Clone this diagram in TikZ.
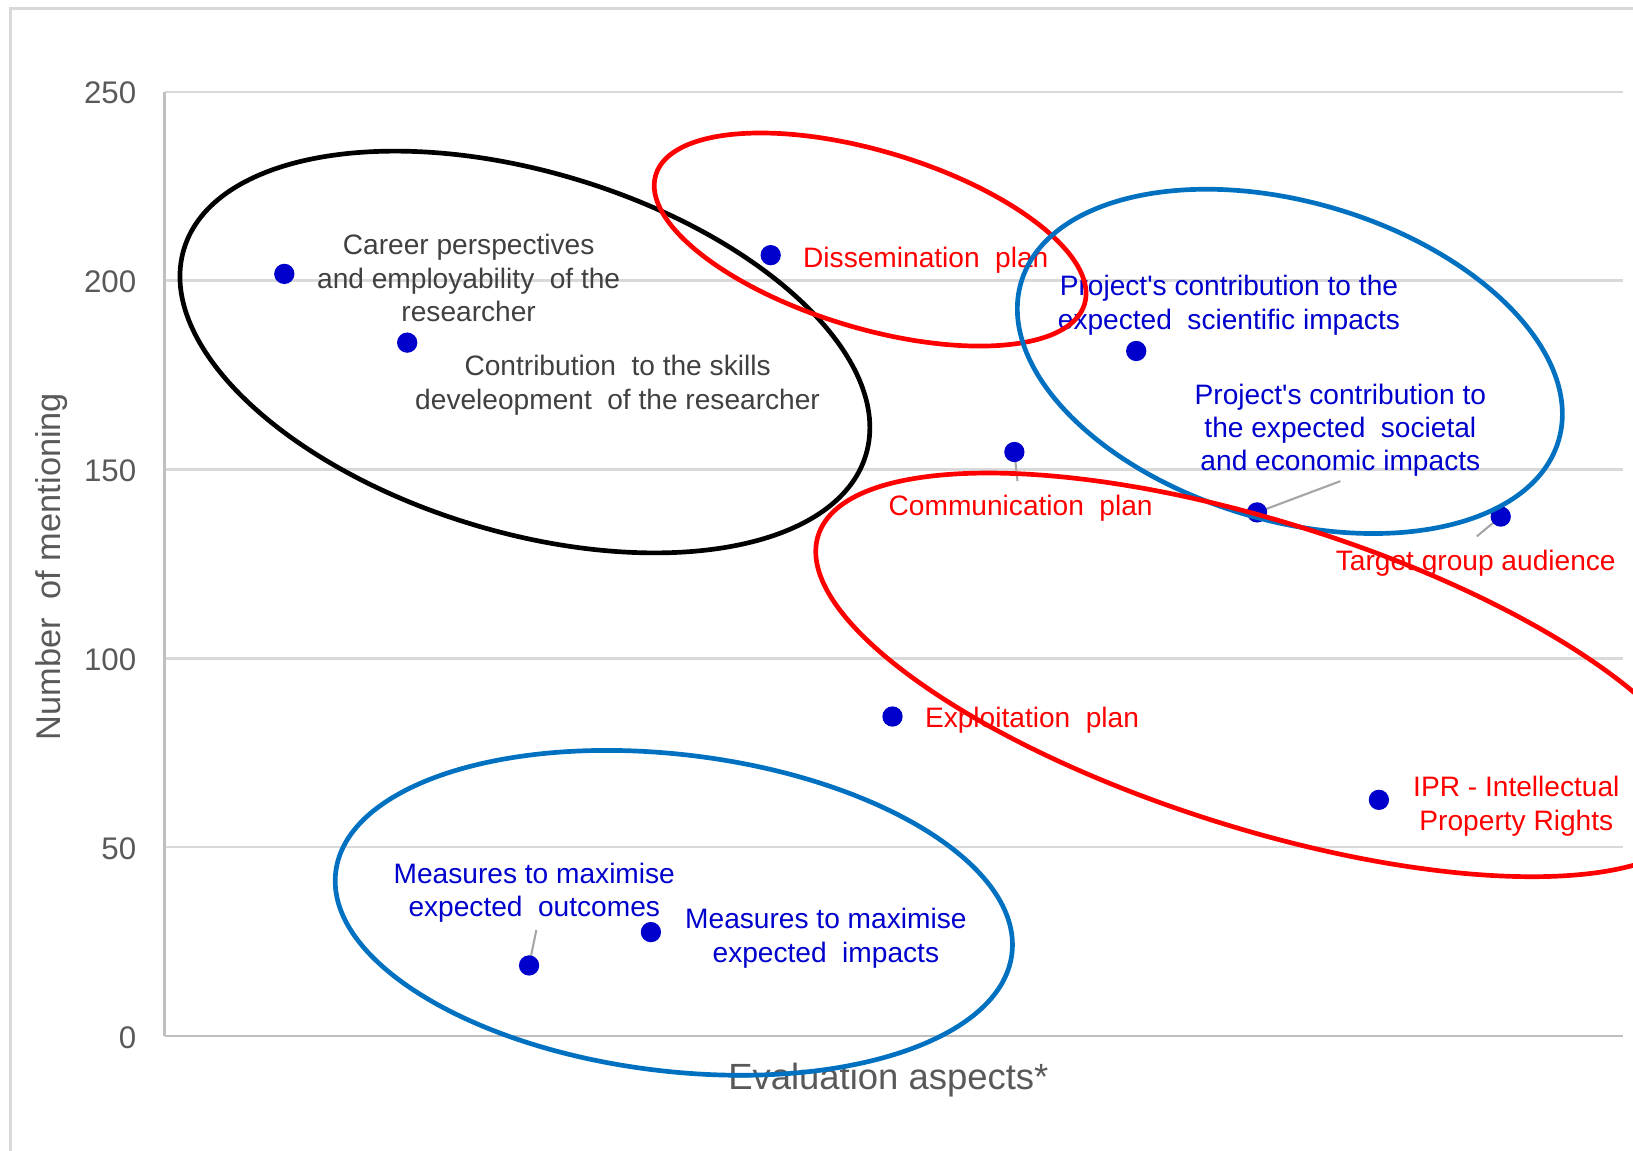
\documentclass[tikz,border=0pt]{standalone}
\usepackage{fontspec}
\setmainfont{Liberation Sans}
\definecolor{dotblue}{HTML}{0000CC}
\definecolor{lblblue}{HTML}{0000CC}
\definecolor{lblred}{HTML}{FF0000}
\definecolor{lblgray}{HTML}{404040}
\definecolor{tickgray}{HTML}{595959}
\definecolor{gridgray}{HTML}{D9D9D9}
\definecolor{axisgray}{HTML}{BFBFBF}
\definecolor{leadgray}{HTML}{A6A6A6}
\definecolor{ringblue}{HTML}{0070C0}
\definecolor{ringred}{HTML}{FF0000}
\newcommand{\dsp}{\hspace{0.55em}}
\begin{document}
\begin{tikzpicture}[x=1pt,y=-1pt,
  font=\fontsize{27}{32}\selectfont,
  dot/.style={circle, fill=dotblue, minimum size=19.5pt, inner sep=0pt},
  lbl/.style={inner sep=0pt, align=center},
  gridline/.style={draw=gridgray, line width=2.2pt},
  axisline/.style={draw=axisgray, line width=2.2pt},
  tick/.style={anchor=east, inner sep=0pt, text=tickgray, font=\fontsize{30}{36}\selectfont},
  ring/.style={line width=4.5pt},
  leader/.style={draw=leadgray, line width=2pt}]
\useasboundingbox (0,0) rectangle (1568,1105);
\clip (0,0) rectangle (1568,1105);
% outer frame
\draw[gridgray, line width=2.5pt] (1600,8) -- (10,8) -- (10,1130);
% grid
\foreach \yy in {88,269.4,450.8,632.2,813.6} {\draw[gridline] (158,\yy) -- (1558,\yy);}
\draw[axisline] (158,995) -- (1558,995);
\draw[axisline] (158,88) -- (158,995);
% ticks
\node[tick] (t250) at (131,89) {250};
\node[tick] (t200) at (131,270.4) {200};
\node[tick] (t150) at (131,451.8) {150};
\node[tick] (t100) at (131,633.2) {100};
\node[tick] (t50) at (131,814.6) {50};
\node[tick] (t0) at (131,996) {0};
% axis titles
\node[rotate=90, text=tickgray, font=\fontsize{33}{38}\selectfont] (ytitle) at (50,544) {Number\dsp of mentioning};
\node[text=tickgray, font=\fontsize{35}{40}\selectfont] (xtitle) at (853,1037) {Evaluation aspects*};
% labels
\node[lbl, text=lblgray] (l1) at (450,267) {Career perspectives\\and employability\dsp of the\\researcher};
\node[lbl, text=lblgray] (l2) at (593,370) {Contribution\dsp to the skills\\develeopment\dsp of the researcher};
\node[lbl, text=lblred, anchor=west] (l3) at (771,250) {Dissemination\dsp plan};
\node[lbl, text=lblred] (l4) at (980,488) {Communication\dsp plan};
\node[lbl, text=lblblue] (l5) at (1180,293) {Project\textquotesingle s contribution to the\\expected\dsp scientific impacts};
\node[lbl, text=lblblue] (l6) at (1287,413) {Project\textquotesingle s contribution to\\the expected\dsp societal\\and economic impacts};
\node[lbl, text=lblred] (l7) at (1417,541) {Target group audience};
\node[lbl, text=lblred, anchor=west] (l8) at (888,692) {Exploitation\dsp plan};
\node[lbl, text=lblred] (l9) at (1456,774) {IPR - Intellectual\\Property Rights};
\node[lbl, text=lblblue] (l10) at (513,857) {Measures to maximise\\expected\dsp outcomes};
\node[lbl, text=lblblue] (l11) at (793,901) {Measures to maximise\\expected\dsp impacts};
% leader ends
\coordinate (c4) at (977,462);
\coordinate (c6) at (1287,462);
\coordinate (c7) at (1418,515);
\coordinate (c10) at (515,893);
% points
\coordinate (q1) at (273,263);
\coordinate (q2) at (391,329);
\coordinate (q3) at (740,245);
\coordinate (q4) at (974,434);
\coordinate (q5) at (1091,337);
\coordinate (q6) at (1207,492);
\coordinate (q7) at (1441,496);
\coordinate (q8) at (857,688);
\coordinate (q9) at (1324,768);
\coordinate (q10) at (508,927);
\coordinate (q11) at (625,895);
\draw[leader] (q4) -- (c4);
\draw[leader] (q6) -- (c6);
\draw[leader] (q7) -- (c7);
\draw[leader] (q10) -- (c10);
\foreach \i in {1,...,11} {\node[dot] (p\i) at (q\i) {};}
% ellipses
\draw[ring, black, rotate around={-16.8:(504,338)}] (504,338) ellipse [x radius=342, y radius=173];
\draw[ring, ringred, rotate around={-16.75:(835.5,230)}] (835.5,230) ellipse [x radius=215, y radius=85];
\draw[ring, ringblue, rotate around={-16.4:(1238.5,347)}] (1238.5,347) ellipse [x radius=269, y radius=153];
\draw[ring, ringred, rotate around={-17.5:(1210,648)}] (1210,648) ellipse [x radius=445, y radius=147];
\draw[ring, ringblue, rotate around={-6.9:(647,876.5)}] (647,876.5) ellipse [x radius=327, y radius=152];
\end{tikzpicture}
\end{document}
